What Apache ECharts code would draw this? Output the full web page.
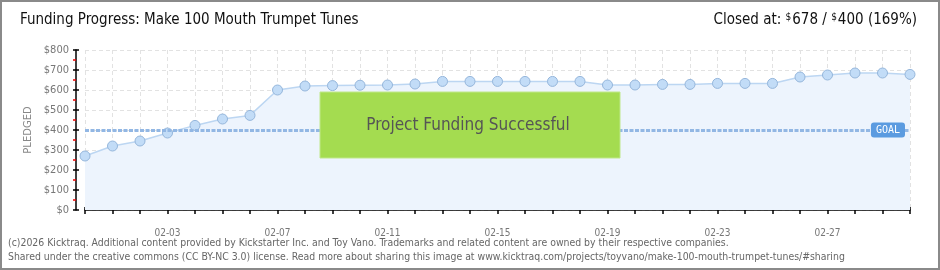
<!DOCTYPE html>
<html><head><meta charset="utf-8">
<script src="https://cdn.jsdelivr.net/npm/echarts@6/dist/echarts.min.js"></script>
<style>html,body{margin:0;padding:0;background:#fff}#c{width:940px;height:270px}</style>
</head><body><div id="c"></div>
<script>
const categories = ['01-31','02-01','02-02','02-03','02-04','02-05','02-06','02-07','02-08','02-09','02-10','02-11','02-12','02-13','02-14','02-15','02-16','02-17','02-18','02-19','02-20','02-21','02-22','02-23','02-24','02-25','02-26','02-27','02-28','03-01','03-02'];
const pledged = [270,320,345,385,423,455,473,600,620,622,624,625,630,643,643,643,643,643,643,625,625,628,628,633,633,633,665,675,685,685,678];
const goal = 400;
const yTicks = [0,100,200,300,400,500,600,700,800];
const titleText = 'Funding Progress: Make 100 Mouth Trumpet Tunes';
const closedAt = 678, pct = 169;
const footer1 = '(c)2026 Kicktraq. Additional content provided by Kickstarter Inc. and Toy Vano. Trademarks and related content are owned by their respective companies.';
const footer2 = 'Shared under the creative commons (CC BY-NC 3.0) license. Read more about sharing this image at www.kicktraq.com/projects/toyvano/make-100-mouth-trumpet-tunes/#sharing';

const FONT = '"Liberation Sans Narrow", "DejaVu Sans Condensed", sans-serif';
const chart = echarts.init(document.getElementById('c'), null, {renderer:'canvas'});
const yMin = yTicks[0], yMax = yTicks[yTicks.length-1], yInt = yTicks[1]-yTicks[0];
const grid = {left:85, right:30, top:50, bottom:60};
const xBase = {type:'category', data:categories, boundaryGap:false, gridIndex:0, position:'bottom'};
const yBase = {type:'value', min:yMin, max:yMax, interval:yInt, gridIndex:0, position:'left'};

chart.setOption({
  animation:false,
  textStyle:{fontFamily:FONT},
  grid:[grid],
  xAxis:[
    Object.assign({}, xBase, {
      offset:10,
      axisLine:{show:true, lineStyle:{color:'#000', width:1.5}},
      axisTick:{show:true, interval:0, length:4, lineStyle:{color:'#000', width:1.5}},
      axisLabel:{interval:(i)=>i%4===3, color:'#777', fontSize:10, margin:8, fontFamily:FONT},
      splitLine:{show:true, interval:0, lineStyle:{color:'#e2e2e2', type:[4,3]}}
    }),
    Object.assign({}, xBase, {
      offset:10,
      axisLine:{show:false},
      axisTick:{show:true, inside:true, interval:0, length:3, lineStyle:{color:'#000', width:1.5}},
      axisLabel:{show:false}, splitLine:{show:false}
    })
  ],
  yAxis:[
    Object.assign({}, yBase, {
      offset:9,
      name:'PLEDGED', nameLocation:'middle', nameGap:42, nameRotate:90,
      nameTextStyle:{color:'#888', fontSize:10, fontFamily:'DejaVu Sans'},
      axisLine:{show:true, lineStyle:{color:'#000', width:1.5}},
      axisTick:{show:true, length:3, lineStyle:{color:'#000', width:1.5}},
      minorTick:{show:true, splitNumber:2, length:3, lineStyle:{color:'#e00', width:1.5}},
      axisLabel:{color:'#777', fontSize:11, margin:7, formatter:(v)=>'$'+v, fontFamily:'DejaVu Sans Condensed, sans-serif'},
      splitLine:{show:true, lineStyle:{color:'#e2e2e2', type:[4,3]}}
    }),
    Object.assign({}, yBase, {
      offset:9,
      axisLine:{show:false},
      axisTick:{show:true, inside:true, length:3, lineStyle:{color:'#000', width:1.5}},
      axisLabel:{show:false}, splitLine:{show:false}
    })
  ],
  series:[{
    type:'line', data:pledged, xAxisIndex:0, yAxisIndex:0,
    symbol:'circle', symbolSize:10, showAllSymbol:true,
    lineStyle:{color:'#bcd6f2', width:1.5},
    itemStyle:{color:'#c2dcf7', borderColor:'#95b6db', borderWidth:1},
    areaStyle:{color:'#edf4fd', opacity:1},
    z:2,
    markLine:{
      silent:true, symbol:['none','none'],
      lineStyle:{color:'#92b7e4', type:[4,1.5], width:3},
      label:{
        show:true, position:'insideEnd', formatter:'GOAL', align:'right', verticalAlign:'middle',
        distance:[5,0], color:'#fff', fontSize:10, fontFamily:'DejaVu Sans Mono, monospace',
        backgroundColor:'#5b9be0', borderRadius:3, padding:[3,5,2,5]
      },
      data:[{yAxis:goal}]
    }
  }],
  graphic:[
    {type:'rect', z:100, shape:{x:1,y:1,width:938,height:268}, style:{fill:'none', stroke:'#8a8a8a', lineWidth:2}},
    {type:'text', x:20, y:13, style:{text:titleText, font:'15px '+FONT, fill:'#111'}},
    {type:'text', x:917, y:12, style:{
      text:'Closed at: {s|$}' + closedAt + ' / {s|$}400 (' + pct + '%)',
      align:'right', font:'15px '+FONT, fill:'#111',
      rich:{s:{fontSize:10, verticalAlign:'top', fontFamily:FONT, fill:'#111', padding:[0,1,6,0]}}
    }},
    {type:'rect', z:50, shape:{x:320,y:92,width:300,height:66}, style:{fill:'#a4dc50', stroke:'#bfe889', lineWidth:1}},
    {type:'text', z:51, style:{x:468, y:126, text:'Project Funding Successful', align:'center', verticalAlign:'middle',
        font:'17px '+FONT, fill:'#555', textShadowColor:'#f4f4f4', textShadowOffsetX:1, textShadowOffsetY:1, textShadowBlur:0}},
    {type:'text', x:8, y:238, style:{text:footer1, font:'10.4px '+FONT, fill:'#666'}},
    {type:'text', x:8, y:252, style:{text:footer2, font:'10.4px '+FONT, fill:'#666'}}
  ]
});
</script></body></html>
